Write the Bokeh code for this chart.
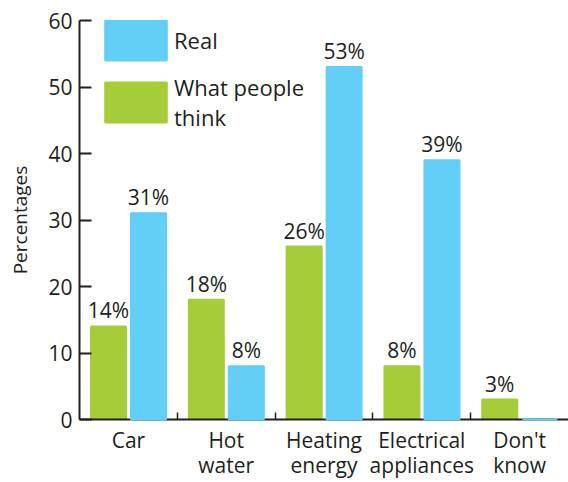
from bokeh.plotting import figure
from bokeh.models import (Range1d, LinearAxis, FixedTicker, ColumnDataSource,
                          LabelSet, Legend, LegendItem)
from bokeh.core.properties import value
from bokeh.embed import file_html
from bokeh.resources import INLINE

# ---- data ----
categories = ["Car", "Hot\nwater", "Heating\nenergy", "Electrical\nappliances", "Don't\nknow"]
real = [31, 8, 53, 39, 0]
think = [14, 18, 26, 8, 3]
y_ticks = [0, 10, 20, 30, 40, 50, 60]
series_names = ["Real", "What people\nthink"]

# ---- style ----
BLUE = "#63CFF6"
GREEN = "#A4CD39"
INK = "#231F20"
FONT = "Open Sans"
BAR_W = 0.358
OFF_THINK = 0.297
OFF_REAL = 0.706

n = len(categories)
p = figure(width=568, height=482, output_backend="svg", toolbar_location=None,
           x_range=Range1d(0, n), y_range=Range1d(0, 60),
           min_border_left=79, min_border_right=0, min_border_top=20, min_border_bottom=63,
           x_axis_type=None, y_axis_type=None)
p.outline_line_color = None
p.background_fill_color = "white"

x_think = [i + OFF_THINK for i in range(n)]
x_real = [i + OFF_REAL for i in range(n)]

src_t = ColumnDataSource(dict(x=x_think, top=think))
src_r = ColumnDataSource(dict(x=x_real, top=real))

r_t = p.vbar(x="x", top="top", width=BAR_W, source=src_t, fill_color=GREEN,
             line_color=GREEN, line_width=2)
r_r = p.vbar(x="x", top="top", width=BAR_W, source=src_r, fill_color=BLUE,
             line_color=BLUE, line_width=2)
r_r.level = "overlay"

# axes
yaxis = LinearAxis(ticker=FixedTicker(ticks=y_ticks), axis_label="Percentages")
yaxis.axis_line_color = INK
yaxis.axis_line_width = 2
yaxis.major_tick_in = 12
yaxis.major_tick_out = 0
yaxis.major_tick_line_color = INK
yaxis.major_tick_line_width = 2
yaxis.minor_tick_line_color = None
yaxis.major_label_standoff = 7
yaxis.major_label_text_font = FONT
yaxis.major_label_text_font_size = "21px"
yaxis.major_label_text_color = INK
yaxis.axis_label_text_font = FONT
yaxis.axis_label_text_font_size = "19px"
yaxis.axis_label_text_font_style = "normal"
yaxis.axis_label_text_color = INK
yaxis.axis_label_standoff = 12
p.add_layout(yaxis, "left")

centers = [i + 0.5 for i in range(n)]
xaxis = LinearAxis(ticker=FixedTicker(ticks=centers, minor_ticks=list(range(1, n))))
xaxis.major_label_overrides = {c: lab for c, lab in zip(centers, categories)}
xaxis.axis_line_color = INK
xaxis.axis_line_width = 2
xaxis.major_tick_line_color = None
xaxis.major_tick_in = 0
xaxis.major_tick_out = 0
xaxis.minor_tick_in = 7
xaxis.minor_tick_out = 0
xaxis.minor_tick_line_color = INK
xaxis.minor_tick_line_width = 1.5
xaxis.major_label_standoff = 6
xaxis.major_label_text_font = FONT
xaxis.major_label_text_font_size = "21px"
xaxis.major_label_text_line_height = 0.92
xaxis.major_label_text_color = INK
p.add_layout(xaxis, "below")

# value labels
vx, vy, vt = [], [], []
for xs, vals in ((x_think, think), (x_real, real)):
    for x, v in zip(xs, vals):
        if v > 0:
            vx.append(x); vy.append(v); vt.append(f"{v}%")
val_src = ColumnDataSource(dict(x=vx, y=vy, t=vt))
p.add_layout(LabelSet(x="x", y="y", text="t", source=val_src, text_align="center",
                      text_baseline="alphabetic", y_offset=8, text_font=value(FONT),
                      text_font_size=value("21px"), text_color=INK))

legend = Legend(items=[LegendItem(label=series_names[0], renderers=[r_r]),
                       LegendItem(label=series_names[1], renderers=[r_t])],
                location=(18, 287))
legend.glyph_width = 77
legend.glyph_height = 50
legend.spacing = 7
legend.padding = 0
legend.margin = 0
legend.label_standoff = 0
legend.border_line_color = None
legend.background_fill_alpha = 0
legend.label_text_font = FONT
legend.label_text_font_size = "22px"
legend.label_text_line_height = 0.9
legend.label_text_color = INK
p.add_layout(legend, "center")

open("out.html", "w").write(file_html(p, INLINE))
